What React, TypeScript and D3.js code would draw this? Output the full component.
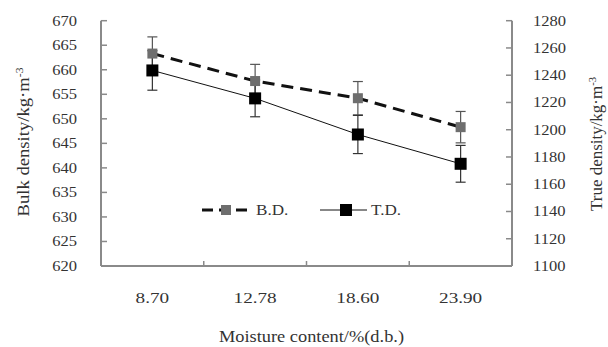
import React from "react";
import * as d3 from "d3";

const categories = ["8.70", "12.78", "18.60", "23.90"];
const bulkDensity = [663.3, 657.7, 654.2, 648.3];
const bulkErr = [3.4, 3.4, 3.4, 3.2];
const trueDensity = [1243.5, 1223, 1196.5, 1175];
const trueErr = [14.5, 13.5, 14, 13.5];
const leftTicks = [620, 625, 630, 635, 640, 645, 650, 655, 660, 665, 670];
const rightTicks = [1100, 1120, 1140, 1160, 1180, 1200, 1220, 1240, 1260, 1280];

const W = 608, H = 347;
const L = 101, R = 512, T = 20.7, B = 266;
const font = "'Liberation Serif', 'Times New Roman', serif";
const axisColor = "#8a8a8a";
const textColor = "#333";

function SText({ x, y, sx = 1.18, size = 14, anchor = "start", children }: any) {
  return (
    <text transform={`translate(${x},${y}) scale(${sx},1)`} dy="0.35em" textAnchor={anchor} fontSize={size} fill={textColor}>
      {children}
    </text>
  );
}

export default function App() {
  const x = d3.scaleBand<string>().domain(categories).range([L, R]);
  const yL = d3.scaleLinear().domain([620, 670]).range([B, T]);
  const yR = d3.scaleLinear().domain([1100, 1280]).range([B, T]);
  const cx = (c: string) => (x(c) as number) + x.bandwidth() / 2;

  const lineB = d3.line<number>().x((_, i) => cx(categories[i])).y((d) => yL(d));
  const lineT = d3.line<number>().x((_, i) => cx(categories[i])).y((d) => yR(d));

  const cap = 5;
  return (
    <svg width={W} height={H} style={{ position: "absolute", left: 0, top: 0, background: "#fff" }} fontFamily={font}>
      {/* axes */}
      <line x1={L} x2={L} y1={T} y2={B} stroke={axisColor} strokeWidth={2} />
      <line x1={R} x2={R} y1={T} y2={B} stroke={axisColor} strokeWidth={2} />
      <line x1={L} x2={R} y1={B} y2={B} stroke={axisColor} strokeWidth={2} />
      {leftTicks.map((t) => (
        <g key={"l" + t}>
          <line x1={L} x2={L + 6} y1={yL(t)} y2={yL(t)} stroke={axisColor} strokeWidth={1.5} />
          <SText x={77} y={yL(t)} anchor="end">{t}</SText>
        </g>
      ))}
      {rightTicks.map((t) => (
        <g key={"r" + t}>
          <line x1={R - 6} x2={R} y1={yR(t)} y2={yR(t)} stroke={axisColor} strokeWidth={1.5} />
          <SText x={533} y={yR(t)} anchor="start">{t}</SText>
        </g>
      ))}
      {categories.slice(1).map((c) => (
        <line key={"xt" + c} x1={x(c) as number} x2={x(c) as number} y1={B} y2={B - 5} stroke={axisColor} strokeWidth={1.5} />
      ))}
      {categories.map((c) => (
        <SText key={"xl" + c} x={cx(c)} y={298} anchor="middle" size={15} sx={1.28}>{c}</SText>
      ))}
      <SText x={(L + R) / 2 + 5} y={336.5} anchor="middle" size={17} sx={1.08}>Moisture content/%(d.b.)</SText>
      <text transform={`translate(23,142) rotate(-90)`} dy="0.35em" textAnchor="middle" fontSize={16} fill={textColor}
        textLength={149} lengthAdjust="spacingAndGlyphs">
        Bulk density/kg·m<tspan fontSize={10} dy="-6">-3</tspan>
      </text>
      <text transform={`translate(596,144) rotate(-90)`} dy="0.35em" textAnchor="middle" fontSize={16} fill={textColor}
        textLength={134} lengthAdjust="spacingAndGlyphs">
        True density/kg·m<tspan fontSize={10} dy="-6">-3</tspan>
      </text>

      {/* error bars */}
      {bulkDensity.map((v, i) => {
        const px = cx(categories[i]);
        const y1 = yL(v + bulkErr[i]), y2 = yL(v - bulkErr[i]);
        return (
          <g key={"eb" + i} stroke="#555" strokeWidth={1.2}>
            <line x1={px} x2={px} y1={y1} y2={y2} />
            <line x1={px - cap} x2={px + cap} y1={y1} y2={y1} />
            <line x1={px - cap} x2={px + cap} y1={y2} y2={y2} />
          </g>
        );
      })}
      {trueDensity.map((v, i) => {
        const px = cx(categories[i]);
        const y1 = yR(v + trueErr[i]), y2 = yR(v - trueErr[i]);
        return (
          <g key={"et" + i} stroke="#333" strokeWidth={1.2}>
            <line x1={px} x2={px} y1={y1} y2={y2} />
            <line x1={px - cap} x2={px + cap} y1={y1} y2={y1} />
            <line x1={px - cap} x2={px + cap} y1={y2} y2={y2} />
          </g>
        );
      })}

      {/* lines */}
      <path d={lineT(trueDensity) as string} fill="none" stroke="#111" strokeWidth={1} />
      <path d={lineB(bulkDensity) as string} fill="none" stroke="#111" strokeWidth={3} strokeDasharray="12,7" />

      {/* markers */}
      {bulkDensity.map((v, i) => (
        <rect key={"mb" + i} x={cx(categories[i]) - 5} y={yL(v) - 5} width={10} height={10} fill="#6e6e6e" />
      ))}
      {trueDensity.map((v, i) => (
        <rect key={"mt" + i} x={cx(categories[i]) - 6} y={yR(v) - 6} width={12} height={12} fill="#000" />
      ))}

      {/* legend */}
      <g>
        <line x1={202} x2={248} y1={210} y2={210} stroke="#111" strokeWidth={3} strokeDasharray="11,6" />
        <rect x={221} y={205} width={10} height={10} fill="#6e6e6e" />
        <SText x={256} y={210} size={14.5}>B.D.</SText>
        <line x1={320} x2={367} y1={210} y2={210} stroke="#111" strokeWidth={1} />
        <rect x={340} y={204} width={12} height={12} fill="#000" />
        <SText x={371} y={210} size={14.5}>T.D.</SText>
      </g>
    </svg>
  );
}
